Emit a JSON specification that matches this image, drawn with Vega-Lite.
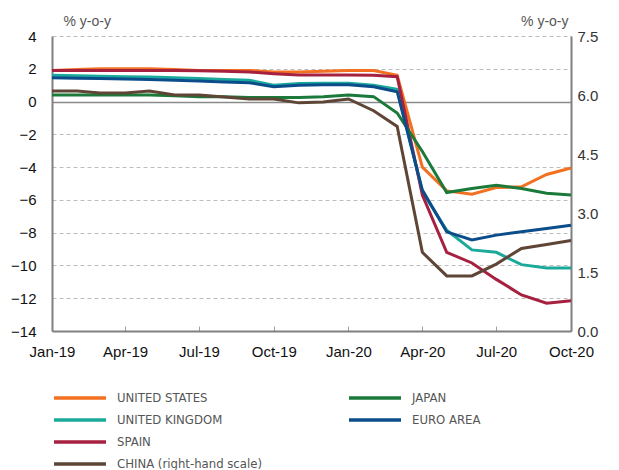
{
  "$schema": "https://vega.github.io/schema/vega-lite/v6.json",
  "width": 519,
  "height": 295,
  "autosize": "none",
  "padding": {"left": 52, "top": 36, "right": 48, "bottom": 139},
  "background": "white",
  "config": {
    "view": {"stroke": null},
    "font": "Liberation Sans",
    "axis": {"labelFont": "Liberation Sans", "titleFont": "Liberation Sans"}
  },
  "data": {"values": [
    {"date":"2019-01-01","country":"UNITED STATES","value":1.9},
    {"date":"2019-02-01","country":"UNITED STATES","value":1.95},
    {"date":"2019-03-01","country":"UNITED STATES","value":2.0},
    {"date":"2019-04-01","country":"UNITED STATES","value":2.0},
    {"date":"2019-05-01","country":"UNITED STATES","value":2.0},
    {"date":"2019-06-01","country":"UNITED STATES","value":1.95},
    {"date":"2019-07-01","country":"UNITED STATES","value":1.9},
    {"date":"2019-08-01","country":"UNITED STATES","value":1.9},
    {"date":"2019-09-01","country":"UNITED STATES","value":1.9},
    {"date":"2019-10-01","country":"UNITED STATES","value":1.8},
    {"date":"2019-11-01","country":"UNITED STATES","value":1.8},
    {"date":"2019-12-01","country":"UNITED STATES","value":1.85},
    {"date":"2020-01-01","country":"UNITED STATES","value":1.9},
    {"date":"2020-02-01","country":"UNITED STATES","value":1.9},
    {"date":"2020-03-01","country":"UNITED STATES","value":1.6},
    {"date":"2020-04-01","country":"UNITED STATES","value":-4.0},
    {"date":"2020-05-01","country":"UNITED STATES","value":-5.45},
    {"date":"2020-06-01","country":"UNITED STATES","value":-5.65},
    {"date":"2020-07-01","country":"UNITED STATES","value":-5.25},
    {"date":"2020-08-01","country":"UNITED STATES","value":-5.2},
    {"date":"2020-09-01","country":"UNITED STATES","value":-4.45},
    {"date":"2020-10-01","country":"UNITED STATES","value":-4.05},

    {"date":"2019-01-01","country":"JAPAN","value":0.4},
    {"date":"2019-02-01","country":"JAPAN","value":0.4},
    {"date":"2019-03-01","country":"JAPAN","value":0.4},
    {"date":"2019-04-01","country":"JAPAN","value":0.4},
    {"date":"2019-05-01","country":"JAPAN","value":0.4},
    {"date":"2019-06-01","country":"JAPAN","value":0.35},
    {"date":"2019-07-01","country":"JAPAN","value":0.3},
    {"date":"2019-08-01","country":"JAPAN","value":0.3},
    {"date":"2019-09-01","country":"JAPAN","value":0.25},
    {"date":"2019-10-01","country":"JAPAN","value":0.25},
    {"date":"2019-11-01","country":"JAPAN","value":0.25},
    {"date":"2019-12-01","country":"JAPAN","value":0.3},
    {"date":"2020-01-01","country":"JAPAN","value":0.4},
    {"date":"2020-02-01","country":"JAPAN","value":0.3},
    {"date":"2020-03-01","country":"JAPAN","value":-0.7},
    {"date":"2020-04-01","country":"JAPAN","value":-3.05},
    {"date":"2020-05-01","country":"JAPAN","value":-5.55},
    {"date":"2020-06-01","country":"JAPAN","value":-5.3},
    {"date":"2020-07-01","country":"JAPAN","value":-5.1},
    {"date":"2020-08-01","country":"JAPAN","value":-5.3},
    {"date":"2020-09-01","country":"JAPAN","value":-5.6},
    {"date":"2020-10-01","country":"JAPAN","value":-5.7},

    {"date":"2019-01-01","country":"UNITED KINGDOM","value":1.6},
    {"date":"2019-02-01","country":"UNITED KINGDOM","value":1.58},
    {"date":"2019-03-01","country":"UNITED KINGDOM","value":1.55},
    {"date":"2019-04-01","country":"UNITED KINGDOM","value":1.52},
    {"date":"2019-05-01","country":"UNITED KINGDOM","value":1.5},
    {"date":"2019-06-01","country":"UNITED KINGDOM","value":1.45},
    {"date":"2019-07-01","country":"UNITED KINGDOM","value":1.4},
    {"date":"2019-08-01","country":"UNITED KINGDOM","value":1.35},
    {"date":"2019-09-01","country":"UNITED KINGDOM","value":1.3},
    {"date":"2019-10-01","country":"UNITED KINGDOM","value":1.0},
    {"date":"2019-11-01","country":"UNITED KINGDOM","value":1.1},
    {"date":"2019-12-01","country":"UNITED KINGDOM","value":1.12},
    {"date":"2020-01-01","country":"UNITED KINGDOM","value":1.12},
    {"date":"2020-02-01","country":"UNITED KINGDOM","value":1.0},
    {"date":"2020-03-01","country":"UNITED KINGDOM","value":0.75},
    {"date":"2020-04-01","country":"UNITED KINGDOM","value":-5.5},
    {"date":"2020-05-01","country":"UNITED KINGDOM","value":-7.85},
    {"date":"2020-06-01","country":"UNITED KINGDOM","value":-9.05},
    {"date":"2020-07-01","country":"UNITED KINGDOM","value":-9.2},
    {"date":"2020-08-01","country":"UNITED KINGDOM","value":-9.95},
    {"date":"2020-09-01","country":"UNITED KINGDOM","value":-10.15},
    {"date":"2020-10-01","country":"UNITED KINGDOM","value":-10.15},

    {"date":"2019-01-01","country":"EURO AREA","value":1.45},
    {"date":"2019-02-01","country":"EURO AREA","value":1.42},
    {"date":"2019-03-01","country":"EURO AREA","value":1.4},
    {"date":"2019-04-01","country":"EURO AREA","value":1.38},
    {"date":"2019-05-01","country":"EURO AREA","value":1.35},
    {"date":"2019-06-01","country":"EURO AREA","value":1.3},
    {"date":"2019-07-01","country":"EURO AREA","value":1.25},
    {"date":"2019-08-01","country":"EURO AREA","value":1.2},
    {"date":"2019-09-01","country":"EURO AREA","value":1.15},
    {"date":"2019-10-01","country":"EURO AREA","value":0.9},
    {"date":"2019-11-01","country":"EURO AREA","value":1.0},
    {"date":"2019-12-01","country":"EURO AREA","value":1.02},
    {"date":"2020-01-01","country":"EURO AREA","value":1.02},
    {"date":"2020-02-01","country":"EURO AREA","value":0.9},
    {"date":"2020-03-01","country":"EURO AREA","value":0.6},
    {"date":"2020-04-01","country":"EURO AREA","value":-5.4},
    {"date":"2020-05-01","country":"EURO AREA","value":-7.95},
    {"date":"2020-06-01","country":"EURO AREA","value":-8.45},
    {"date":"2020-07-01","country":"EURO AREA","value":-8.15},
    {"date":"2020-08-01","country":"EURO AREA","value":-7.95},
    {"date":"2020-09-01","country":"EURO AREA","value":-7.75},
    {"date":"2020-10-01","country":"EURO AREA","value":-7.55},

    {"date":"2019-01-01","country":"SPAIN","value":1.9},
    {"date":"2019-02-01","country":"SPAIN","value":1.9},
    {"date":"2019-03-01","country":"SPAIN","value":1.9},
    {"date":"2019-04-01","country":"SPAIN","value":1.9},
    {"date":"2019-05-01","country":"SPAIN","value":1.9},
    {"date":"2019-06-01","country":"SPAIN","value":1.9},
    {"date":"2019-07-01","country":"SPAIN","value":1.88},
    {"date":"2019-08-01","country":"SPAIN","value":1.85},
    {"date":"2019-09-01","country":"SPAIN","value":1.8},
    {"date":"2019-10-01","country":"SPAIN","value":1.7},
    {"date":"2019-11-01","country":"SPAIN","value":1.62},
    {"date":"2019-12-01","country":"SPAIN","value":1.62},
    {"date":"2020-01-01","country":"SPAIN","value":1.62},
    {"date":"2020-02-01","country":"SPAIN","value":1.6},
    {"date":"2020-03-01","country":"SPAIN","value":1.52},
    {"date":"2020-04-01","country":"SPAIN","value":-5.7},
    {"date":"2020-05-01","country":"SPAIN","value":-9.2},
    {"date":"2020-06-01","country":"SPAIN","value":-9.85},
    {"date":"2020-07-01","country":"SPAIN","value":-10.85},
    {"date":"2020-08-01","country":"SPAIN","value":-11.8},
    {"date":"2020-09-01","country":"SPAIN","value":-12.3},
    {"date":"2020-10-01","country":"SPAIN","value":-12.15},

    {"date":"2019-01-01","country":"CHINA (right-hand scale)","value":6.1},
    {"date":"2019-02-01","country":"CHINA (right-hand scale)","value":6.1},
    {"date":"2019-03-01","country":"CHINA (right-hand scale)","value":6.05},
    {"date":"2019-04-01","country":"CHINA (right-hand scale)","value":6.05},
    {"date":"2019-05-01","country":"CHINA (right-hand scale)","value":6.1},
    {"date":"2019-06-01","country":"CHINA (right-hand scale)","value":6.0},
    {"date":"2019-07-01","country":"CHINA (right-hand scale)","value":6.0},
    {"date":"2019-08-01","country":"CHINA (right-hand scale)","value":5.95},
    {"date":"2019-09-01","country":"CHINA (right-hand scale)","value":5.9},
    {"date":"2019-10-01","country":"CHINA (right-hand scale)","value":5.9},
    {"date":"2019-11-01","country":"CHINA (right-hand scale)","value":5.8},
    {"date":"2019-12-01","country":"CHINA (right-hand scale)","value":5.82},
    {"date":"2020-01-01","country":"CHINA (right-hand scale)","value":5.9},
    {"date":"2020-02-01","country":"CHINA (right-hand scale)","value":5.6},
    {"date":"2020-03-01","country":"CHINA (right-hand scale)","value":5.2},
    {"date":"2020-04-01","country":"CHINA (right-hand scale)","value":2.0},
    {"date":"2020-05-01","country":"CHINA (right-hand scale)","value":1.4},
    {"date":"2020-06-01","country":"CHINA (right-hand scale)","value":1.4},
    {"date":"2020-07-01","country":"CHINA (right-hand scale)","value":1.7},
    {"date":"2020-08-01","country":"CHINA (right-hand scale)","value":2.1},
    {"date":"2020-09-01","country":"CHINA (right-hand scale)","value":2.2},
    {"date":"2020-10-01","country":"CHINA (right-hand scale)","value":2.3}
  ]},
  "encoding": {
    "x": {
      "field": "date", "type": "temporal",
      "scale": {"type": "utc", "domain": [{"year": 2019, "month": 1, "date": 1, "utc": true}, {"year": 2020, "month": 10, "date": 1, "utc": true}]},
      "axis": {
        "title": null,
        "values": [
          {"year": 2019, "month": 1, "date": 1, "utc": true},
          {"year": 2019, "month": 4, "date": 1, "utc": true},
          {"year": 2019, "month": 7, "date": 1, "utc": true},
          {"year": 2019, "month": 10, "date": 1, "utc": true},
          {"year": 2020, "month": 1, "date": 1, "utc": true},
          {"year": 2020, "month": 4, "date": 1, "utc": true},
          {"year": 2020, "month": 7, "date": 1, "utc": true},
          {"year": 2020, "month": 10, "date": 1, "utc": true}
        ],
        "format": "%b-%y",
        "grid": false,
        "domainColor": "#808080", "domainWidth": 2,
        "tickColor": "#a0a0a0", "tickSize": -5, "tickWidth": 1,
        "labelPadding": 18, "labelFontSize": 15, "labelColor": "#111111",
        "labelFlush": false, "labelOverlap": false
      }
    }
  },
  "layer": [
    {
      "encoding": {
        "y": {
          "field": "value", "type": "quantitative",
          "scale": {"domain": [-14, 4], "nice": false},
          "axis": {
            "orient": "left",
            "values": [-14, -12, -10, -8, -6, -4, -2, 0, 2, 4],
            "title": "% y-o-y", "titleAngle": 0, "titleAlign": "left", "titleBaseline": "alphabetic",
            "titleX": 11, "titleY": -11, "titleFontSize": 14, "titleFontWeight": "normal", "titleColor": "#555555",
            "ticks": false, "labelPadding": 16, "labelFontSize": 15, "labelColor": "#111111",
            "domainColor": "#808080", "domainWidth": 2,
            "grid": true,
            "gridColor": {"condition": {"test": "datum.value === 0", "value": "#8a8a8a"}, "value": "#bdbdbd"},
            "gridDash": {"condition": {"test": "datum.value === 0", "value": []}, "value": [4, 3]},
            "gridWidth": {"condition": {"test": "datum.value === 0", "value": 1.5}, "value": 1.2}
          }
        }
      },
      "layer": [
        {
          "transform": [{"filter": "datum.country === 'UNITED STATES' || datum.country === 'UNITED KINGDOM' || datum.country === 'SPAIN'"}],
          "mark": {"type": "line", "strokeWidth": 3},
          "encoding": {
            "stroke": {
              "field": "country", "type": "nominal",
              "scale": {
                "domain": ["UNITED STATES", "UNITED KINGDOM", "SPAIN", "CHINA (right-hand scale)"],
                "range": ["#F37021", "#1BA99B", "#A6213F", "#5E4536"]
              },
              "legend": {
                "title": null, "orient": "none", "legendX": 0, "legendY": 351, "direction": "vertical",
                "padding": 0, "symbolType": "stroke", "symbolSize": 2704, "symbolStrokeWidth": 3.5,
                "clipHeight": 22, "rowPadding": 0, "labelOffset": 9,
                "labelFont": "DejaVu Sans Condensed, Liberation Sans, sans-serif", "labelFontSize": 13, "labelColor": "#555555", "labelLimit": 300
              }
            }
          }
        },
        {
          "transform": [{"filter": "datum.country === 'JAPAN' || datum.country === 'EURO AREA'"}],
          "mark": {"type": "line", "strokeWidth": 3},
          "encoding": {
            "color": {
              "field": "country", "type": "nominal",
              "scale": {"domain": ["JAPAN", "EURO AREA"], "range": ["#1B7A3A", "#0B4D8A"]},
              "legend": {
                "title": null, "orient": "none", "legendX": 295, "legendY": 351, "direction": "vertical",
                "padding": 0, "symbolType": "stroke", "symbolSize": 2704, "symbolStrokeWidth": 3.5,
                "clipHeight": 22, "rowPadding": 0, "labelOffset": 9,
                "labelFont": "DejaVu Sans Condensed, Liberation Sans, sans-serif", "labelFontSize": 13, "labelColor": "#555555", "labelLimit": 300
              }
            }
          }
        }
      ]
    },
    {
      "transform": [{"filter": "datum.country === 'CHINA (right-hand scale)'"}],
      "mark": {"type": "line", "strokeWidth": 3},
      "encoding": {
        "y": {
          "field": "value", "type": "quantitative",
          "scale": {"domain": [0, 7.5], "nice": false},
          "axis": {
            "orient": "right",
            "values": [0, 1.5, 3, 4.5, 6, 7.5], "format": ".1f",
            "title": "% y-o-y", "titleAngle": 0, "titleAlign": "right", "titleBaseline": "alphabetic",
            "titleX": -3, "titleY": -11, "titleFontSize": 14, "titleFontWeight": "normal", "titleColor": "#555555",
            "ticks": false, "labelPadding": 6, "labelFontSize": 15, "labelColor": "#333333",
            "domainColor": "#808080", "domainWidth": 2, "grid": false
          }
        },
        "stroke": {"field": "country", "type": "nominal"}
      }
    }
  ],
  "resolve": {"scale": {"y": "independent", "color": "independent"}}
}
